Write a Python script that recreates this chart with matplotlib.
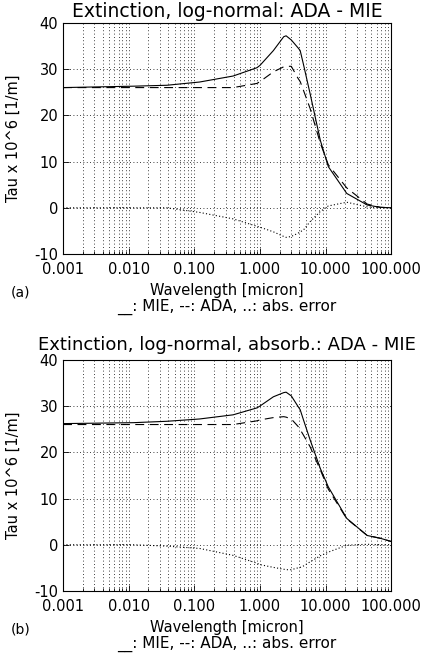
import matplotlib
matplotlib.use('Agg')
import matplotlib.pyplot as plt
from matplotlib.ticker import FixedLocator, FixedFormatter, LogLocator, NullFormatter

# wavelength grid [micron]
wl = [0.001, 0.0117, 0.038, 0.12, 0.39, 0.9, 1.0, 1.6, 2.3, 2.5, 3.0, 3.8, 4.1, 4.6,
      5.8, 8.3, 11, 21, 43, 68, 100]

# panel (a): non-absorbing
mie_a = [26.0, 26.3, 26.5, 27.2, 28.5, 30.3, 30.8, 34.0, 37.0, 37.2, 36.3, 34.6, 34.0, 31.0,
         24.7, 14.6, 8.9, 3.1, 0.6, 0.1, 0.0]
ada_a = [26.0, 26.0, 26.0, 26.0, 26.0, 26.9, 27.3, 29.4, 30.5, 30.6, 30.6, 28.0, 27.3, 25.4,
         21.5, 14.0, 9.3, 4.3, 0.8, 0.1, 0.0]
err_a = [0.0, 0.0, 0.0, -1.0, -2.4, -4.0, -4.2, -5.2, -6.2, -6.4, -6.2, -5.5, -5.2, -4.8,
         -3.0, -0.8, 0.4, 1.2, 0.2, 0.0, 0.0]

# panel (b): absorbing
mie_b = [26.2, 26.4, 26.7, 27.2, 28.1, 29.6, 30.0, 32.0, 32.9, 33.0, 32.2, 29.9, 29.2, 27.0,
         22.7, 16.5, 12.5, 5.7, 2.0, 1.4, 0.7]
ada_b = [26.0, 26.0, 26.0, 26.0, 26.0, 26.8, 27.0, 27.5, 27.7, 27.6, 27.2, 25.6, 24.9, 23.7,
         21.2, 16.2, 12.0, 5.6, 2.0, 1.4, 0.7]
err_b = [0.0, 0.0, -0.3, -0.8, -2.3, -4.0, -4.3, -4.9, -5.3, -5.4, -5.4, -5.0, -4.9, -4.6,
         -3.7, -2.4, -1.6, -0.1, 0.1, 0.0, 0.0]

xticks = [0.001, 0.01, 0.1, 1.0, 10.0, 100.0]
xticklabels = ['0.001', '0.010', '0.100', '1.000', '10.000', '100.000']
yticks = [-10, 0, 10, 20, 30, 40]
yticklabels = ['-10', '0', '10', '20', '30', '40']

plt.rcParams['font.family'] = 'DejaVu Sans'
plt.rcParams['font.size'] = 10

fig = plt.figure(figsize=(4.29, 6.53), dpi=100)


def panel(rect, mie, ada, err, title, tag, tsize, tpad):
    ax = fig.add_axes(rect)
    ax.set_xscale('log')
    ax.set_xlim(0.001, 100)
    ax.set_ylim(-10, 40)
    # grid first so curves sit on top
    ax.xaxis.set_major_locator(FixedLocator(xticks))
    ax.xaxis.set_major_formatter(FixedFormatter(xticklabels))
    ax.xaxis.set_minor_locator(LogLocator(base=10, subs=range(2, 10)))
    ax.xaxis.set_minor_formatter(NullFormatter())
    ax.yaxis.set_major_locator(FixedLocator(yticks))
    ax.yaxis.set_major_formatter(FixedFormatter(yticklabels))
    ax.grid(True, which='both', axis='x', color='black', linestyle=(0, (1, 3)), linewidth=0.6)
    ax.grid(True, which='major', axis='y', color='black', linestyle=(0, (1, 3)), linewidth=0.6)

    ax.plot(wl, mie, color='black', linestyle='-', linewidth=0.8)
    ax.plot(wl, ada, color='black', linestyle=(0, (8, 5)), linewidth=0.8)
    ax.plot(wl, err, color='black', linestyle=(0, (1, 2)), linewidth=0.8)

    for s in ax.spines.values():
        s.set_linewidth(0.8)
    ax.tick_params(which='both', direction='in', labelsize=10.5, width=0.6)
    ax.tick_params(which='major', length=4)
    ax.tick_params(which='minor', length=2)
    ax.tick_params(axis='x', pad=6)

    ax.set_title(title, fontsize=tsize, pad=tpad)
    ax.set_xlabel('Wavelength [micron]', fontsize=10.5, labelpad=4)
    ax.set_ylabel('Tau x 10^6 [1/m]', fontsize=10.5, labelpad=10)
    ax.text(-0.16, -0.165, tag, transform=ax.transAxes, fontsize=10, va='center', ha='left')
    ax.text(0.5, -0.23, '__: MIE, --: ADA, ..: abs. error', transform=ax.transAxes,
            fontsize=11, va='center', ha='center')
    return ax


panel([0.147, 0.611, 0.765, 0.354], mie_a, ada_a, err_a,
      'Extinction, log-normal: ADA - MIE', '(a)', 13.5, 4)
panel([0.147, 0.095, 0.765, 0.354], mie_b, ada_b, err_b,
      'Extinction, log-normal, absorb.: ADA - MIE', '(b)', 13, 7)

fig.savefig('out.png', dpi=100)
